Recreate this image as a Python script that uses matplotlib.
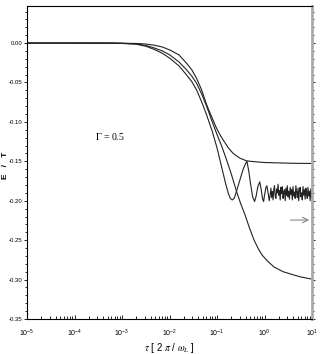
import matplotlib
matplotlib.use("Agg")
import numpy as np
import matplotlib.pyplot as plt
from matplotlib.ticker import MultipleLocator, LogLocator, NullFormatter

# log10(tau) positions and E/T values
plateau_logt = [-5.0, -4.0, -3.0, -2.7, -2.5, -2.34, -2.15, -1.99, -1.8, -1.64, -1.53,
                -1.43, -1.32, -1.22, -1.11, -1.01, -0.94, -0.87, -0.76, -0.66, -0.52,
                -0.37, -0.2, 0.0, 0.3, 0.6, 1.0]
plateau_e = [0.0, 0.0, -0.0002, -0.0005, -0.0012, -0.0025, -0.005, -0.0089, -0.015, -0.0257,
             -0.034, -0.0447, -0.060, -0.078, -0.094, -0.108, -0.116, -0.123, -0.133, -0.140,
             -0.146, -0.1495, -0.1505, -0.1515, -0.152, -0.1525, -0.1527]

mono_logt = [-5.0, -4.0, -3.2, -3.0, -2.7, -2.5, -2.34, -2.15, -1.99, -1.8, -1.64, -1.53,
             -1.43, -1.32, -1.22, -1.1, -1.0, -0.9, -0.8, -0.7, -0.58, -0.5, -0.41, -0.32,
             -0.22, -0.13, -0.05, 0.07, 0.2, 0.39, 0.55, 0.75, 1.0]
mono_e = [0.0, 0.0, 0.0, -0.0003, -0.001, -0.003, -0.0058, -0.010, -0.0152, -0.024, -0.034,
          -0.042, -0.051, -0.065, -0.080, -0.100, -0.116, -0.131, -0.148, -0.166, -0.190,
          -0.204, -0.218, -0.234, -0.250, -0.261, -0.269, -0.277, -0.284, -0.290, -0.293,
          -0.2965, -0.2995]

dip_logt = [-5.0, -4.0, -3.2, -3.0, -2.7, -2.5, -2.34, -2.15, -1.99, -1.8, -1.64, -1.53,
            -1.43, -1.32, -1.22, -1.1, -1.0, -0.9, -0.82, -0.76, -0.72, -0.68, -0.64, -0.6,
            -0.55, -0.5, -0.45, -0.4, -0.37, -0.33, -0.29, -0.25, -0.21, -0.18, -0.14,
            -0.10, -0.07, -0.04, -0.02, 0.0, 0.03, 0.05, 0.08, 0.10, 0.12,
            0.135, 0.15, 0.165, 0.18, 0.195, 0.21, 0.225, 0.24, 0.255, 0.27, 0.285, 0.30,
            0.315, 0.33, 0.345, 0.36, 0.375, 0.39, 0.405, 0.42, 0.435, 0.45, 0.465, 0.48,
            0.495, 0.51, 0.525, 0.54, 0.555, 0.57, 0.585, 0.60, 0.615, 0.63, 0.645, 0.66,
            0.675, 0.69, 0.705, 0.72, 0.735, 0.75, 0.765, 0.78, 0.795, 0.81, 0.825, 0.84,
            0.855, 0.87, 0.885, 0.90, 0.915, 0.93, 0.945, 0.96, 0.975, 0.99, 1.0]
dip_e = [0.0, 0.0, 0.0, -0.0005, -0.0015, -0.004, -0.0076, -0.013, -0.0194, -0.029, -0.0405,
         -0.049, -0.0595, -0.075, -0.091, -0.112, -0.133, -0.158, -0.178, -0.191, -0.197,
         -0.199, -0.197, -0.190, -0.180, -0.170, -0.160, -0.153, -0.150, -0.163, -0.180,
         -0.195, -0.201, -0.195, -0.182, -0.176, -0.186, -0.198, -0.201, -0.193, -0.183,
         -0.181, -0.192, -0.200, -0.192,
         -0.184, -0.196, -0.188, -0.199, -0.186, -0.181, -0.194, -0.197, -0.185, -0.190,
         -0.179, -0.193, -0.187, -0.199, -0.183, -0.191, -0.182, -0.197, -0.189, -0.186,
         -0.200, -0.184, -0.193, -0.181, -0.195, -0.188, -0.198, -0.183, -0.192, -0.186,
         -0.199, -0.182, -0.194, -0.189, -0.197, -0.181, -0.190, -0.196, -0.184, -0.200,
         -0.187, -0.183, -0.195, -0.190, -0.199, -0.182, -0.193, -0.186, -0.198, -0.184,
         -0.191, -0.197, -0.183, -0.194, -0.188, -0.200, -0.185, -0.196, -0.189]

arrow_e = -0.2245
arrow_logt = [0.49, 1.0]

plt.rcParams['font.family'] = ['Liberation Sans Narrow', 'Liberation Sans', 'DejaVu Sans']
plt.rcParams['mathtext.fontset'] = 'custom'
plt.rcParams['mathtext.rm'] = 'Liberation Sans Narrow'
plt.rcParams['mathtext.it'] = 'Liberation Sans Narrow'

fig = plt.figure(figsize=(3.27, 3.54), dpi=100)
ax = fig.add_axes([0.0826, 0.0989, 0.8716, 0.8841])

for lt, e in [(mono_logt, mono_e), (dip_logt, dip_e), (plateau_logt, plateau_e)]:
    ax.plot(10 ** np.array(lt), e, color='#222222', lw=0.8)

ax.annotate('', xy=(10 ** arrow_logt[1], arrow_e), xytext=(10 ** arrow_logt[0], arrow_e),
            arrowprops=dict(arrowstyle='->', color='#888888', lw=0.8))

ax.text(10 ** -3.57, -0.119, r'$\Gamma$ = 0.5', fontsize=7, va='center',
        family=['Liberation Serif'], math_fontfamily='stix')

ax.set_xscale('log')
ax.set_xlim(1e-5, 10)
ax.set_ylim(-0.35, 0.047)

ax.yaxis.set_major_locator(MultipleLocator(0.05))
ax.yaxis.set_minor_locator(MultipleLocator(0.01))
ax.yaxis.set_major_formatter(plt.FuncFormatter(lambda v, p: '%.2f' % v))
ax.xaxis.set_major_locator(LogLocator(base=10, numticks=10))
ax.xaxis.set_minor_locator(LogLocator(base=10, subs=np.arange(2, 10), numticks=20))
ax.xaxis.set_minor_formatter(NullFormatter())

ax.tick_params(axis='y', which='both', direction='out', labelsize=4.3, width=0.6,
               right=True, pad=1.2)
ax.tick_params(axis='y', which='major', length=2)
ax.tick_params(axis='y', which='minor', length=1.2)
ax.tick_params(axis='x', which='both', direction='in', labelsize=5, width=0.6, pad=6)
ax.tick_params(axis='x', which='major', length=3)
ax.tick_params(axis='x', which='minor', length=2)

for s in ['left', 'bottom', 'top']:
    ax.spines[s].set_linewidth(0.8)
ax.spines['right'].set_color('#aaaaaa')
ax.spines['right'].set_linewidth(2)

ax.set_ylabel('E   /   T', fontsize=6, fontweight='bold', va='center')
ax.yaxis.set_label_coords(-0.076, 0.49)
ax.set_xlabel(r'$\tau$ [ 2 $\pi$ / $\omega_L$ ]', fontsize=7, labelpad=1.5,
              math_fontfamily='stix')

fig.savefig('out.png', dpi=100)
